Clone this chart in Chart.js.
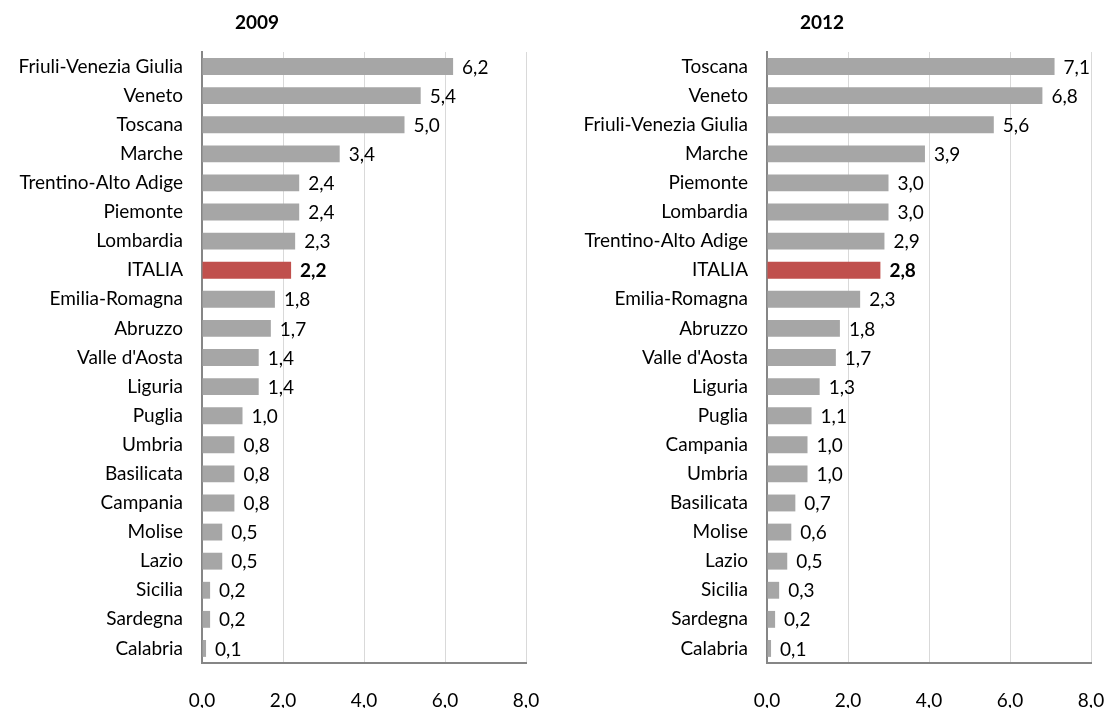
<!DOCTYPE html>
<html>
<head>
<meta charset="utf-8">
<script src="https://cdn.jsdelivr.net/npm/chart.js@4"></script>
<style>
  body { margin: 0; background: #fff; }
  .box { position: absolute; top: 0; height: 708px; }
</style>
</head>
<body>
<div class="box" style="left:0;width:553px"><canvas id="chart2009" width="553" height="708"></canvas></div>
<div class="box" style="left:553px;width:554px"><canvas id="chart2012" width="554" height="708"></canvas></div>
<script>
const labels2009 = ['Friuli-Venezia Giulia','Veneto','Toscana','Marche','Trentino-Alto Adige','Piemonte','Lombardia','ITALIA','Emilia-Romagna','Abruzzo',"Valle d'Aosta",'Liguria','Puglia','Umbria','Basilicata','Campania','Molise','Lazio','Sicilia','Sardegna','Calabria'];
const values2009 = [6.2, 5.4, 5.0, 3.4, 2.4, 2.4, 2.3, 2.2, 1.8, 1.7, 1.4, 1.4, 1.0, 0.8, 0.8, 0.8, 0.5, 0.5, 0.2, 0.2, 0.1];

const labels2012 = ['Toscana','Veneto','Friuli-Venezia Giulia','Marche','Piemonte','Lombardia','Trentino-Alto Adige','ITALIA','Emilia-Romagna','Abruzzo',"Valle d'Aosta",'Liguria','Puglia','Campania','Umbria','Basilicata','Molise','Lazio','Sicilia','Sardegna','Calabria'];
const values2012 = [7.1, 6.8, 5.6, 3.9, 3.0, 3.0, 2.9, 2.8, 2.3, 1.8, 1.7, 1.3, 1.1, 1.0, 1.0, 0.7, 0.6, 0.5, 0.3, 0.2, 0.1];

const xTicks = [0, 2, 4, 6, 8];
const FONT = 'Lato';
const SIZE = 19;

function fmt(v) { return v.toFixed(1).replace('.', ','); }

const titlePlugin = {
  id: 'titleText',
  afterDraw(chart, args, opts) {
    const c = chart.ctx;
    c.save();
    c.font = 'bold ' + SIZE + 'px ' + FONT;
    c.fillStyle = '#000';
    c.textAlign = 'center';
    c.textBaseline = 'middle';
    c.fillText(opts.text, opts.x, 23);
    c.restore();
  }
};

const valueLabels = {
  id: 'valueLabels',
  afterDatasetsDraw(chart) {
    const c = chart.ctx;
    const ds = chart.data.datasets[0];
    chart.getDatasetMeta(0).data.forEach((bar, i) => {
      const isItaly = chart.data.labels[i] === 'ITALIA';
      c.save();
      c.font = (isItaly ? 'bold ' : '') + SIZE + 'px ' + FONT;
      c.fillStyle = '#000';
      c.textBaseline = 'middle';
      c.fillText(fmt(ds.data[i]), bar.x + 9, bar.y + 1);
      c.restore();
    });
  }
};

function makeChart(id, title, titleX, labels, values, axisWidth, rightPad) {
  new Chart(document.getElementById(id), {
    type: 'bar',
    data: {
      labels: labels,
      datasets: [{
        data: values,
        backgroundColor: labels.map(l => l === 'ITALIA' ? '#C0504D' : '#A6A6A6'),
        barPercentage: 0.58,
        categoryPercentage: 1
      }]
    },
    options: {
      indexAxis: 'y',
      responsive: false,
      animation: false,
      layout: { padding: { top: 52, right: rightPad, left: 0, bottom: 0 } },
      plugins: {
        legend: { display: false },
        tooltip: { enabled: false },
        titleText: { text: title, x: titleX }
      },
      scales: {
        x: {
          min: 0,
          max: 8,
          afterBuildTicks(s) { s.ticks = xTicks.map(v => ({ value: v })); },
          afterFit(s) { s.height = 45; },
          ticks: {
            callback: v => fmt(v),
            font: { family: FONT, size: SIZE },
            color: '#000',
            padding: 0
          },
          grid: { color: '#D9D9D9', drawTicks: true, tickLength: 26, tickColor: 'rgba(0,0,0,0)' },
          border: { color: '#868686', width: 2 }
        },
        y: {
          afterFit(s) { s.width = axisWidth; },
          ticks: {
            font: { family: FONT, size: SIZE },
            color: '#000',
            padding: 19,
            autoSkip: false
          },
          grid: { display: false, drawTicks: false },
          border: { color: '#868686', width: 2 }
        }
      }
    },
    plugins: [titlePlugin, valueLabels]
  });
}

makeChart('chart2009', '2009', 257, labels2009, values2009, 202, 27);
makeChart('chart2012', '2012', 269, labels2012, values2012, 214, 16);
</script>
</body>
</html>
